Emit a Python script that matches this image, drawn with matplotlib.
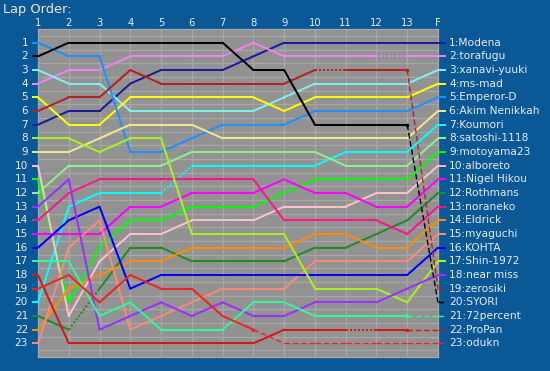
import matplotlib
matplotlib.use("Agg")
import matplotlib.pyplot as plt

# ---------------- data ----------------
laps = ["1", "2", "3", "4", "5", "6", "7", "8", "9", "10", "11", "12", "13", "F"]
drivers = ["Modena", "torafugu", "xanavi-yuuki", "ms-mad", "Emperor-D", "Akim Nenikkah",
           "Koumori", "satoshi-1118", "motoyama23", "alboreto", "Nigel Hikou", "Rothmans",
           "noraneko", "Eldrick", "myaguchi", "KOHTA", "Shin-1972", "near miss", "zerosiki",
           "SYORI", "72percent", "ProPan", "odukn"]
colors = ["#1c1c9a", "#ee82ee", "#84eeee", "#ffff00", "#1e90ff", "#f0e68c",
          "#00ffff", "#90ee90", "#00ff00", "#ffc0c8", "#ff00ff", "#228b22",
          "#ff1493", "#ff8c00", "#fa8a78", "#0000ff", "#a8f020", "#9a30ff", "#b22222",
          "#000000", "#30f898", "#d41818", "#ee2424"]

pos_modena    = [7, 6, 6, 4, 3, 3, 3, 2, 1, 1, 1, 1, 1, 1]
pos_torafugu  = [4, 3, 3, 2, 2, 2, 2, 1, 2, 2, 2, 2, 2, 2]
pos_xanavi    = [3, 4, 4, 6, 6, 6, 6, 6, 5, 4, 4, 4, 4, 3]
pos_msmad     = [5, 7, 7, 5, 5, 5, 5, 5, 6, 5, 5, 5, 5, 4]
pos_emperor   = [1, 2, 2, 9, 9, 8, 7, 7, 7, 6, 6, 6, 6, 5]
pos_akim      = [9, 9, 8, 7, 7, 7, 8, 8, 8, 8, 8, 8, 8, 6]
pos_koumori   = [20, 13, 12, 12, 12, 10, 10, 10, 10, 10, 9, 9, 9, 7]
pos_satoshi   = [12, 10, 10, 10, 10, 9, 9, 9, 9, 9, 10, 10, 10, 8]
pos_motoyama  = [11, 20, 16, 14, 14, 13, 13, 13, 12, 11, 11, 11, 11, 9]
pos_alboreto  = [10, 21, 17, 15, 15, 14, 14, 14, 13, 13, 13, 12, 12, 10]
pos_nigel     = [15, 15, 15, 13, 13, 12, 12, 12, 11, 12, 12, 13, 13, 11]
pos_rothmans  = [21, 22, 19, 16, 16, 17, 17, 17, 17, 16, 16, 15, 14, 12]
pos_noraneko  = [14, 12, 11, 11, 11, 11, 11, 11, 14, 14, 14, 14, 15, 13]
pos_eldrick   = [22, 19, 18, 17, 17, 16, 16, 16, 16, 15, 15, 16, 16, 14]
pos_myaguchi  = [23, 16, 14, 22, 21, 20, 19, 19, 19, 17, 17, 17, 17, 15]
pos_kohta     = [16, 14, 13, 19, 18, 18, 18, 18, 18, 18, 18, 18, 18, 16]
pos_shin      = [8, 8, 9, 8, 8, 15, 15, 15, 15, 19, 19, 19, 20, 17]
pos_nearmiss  = [13, 11, 22, 21, 20, 21, 20, 21, 21, 20, 20, 20, 19, 18]
pos_zerosiki  = [6, 5, 5, 3, 4, 4, 4, 4, 4, 3, 3, 3, 3, 19]
pos_syori     = [2, 1, 1, 1, 1, 1, 1, 3, 3, 7, 7, 7, 7, 20]
pos_72percent = [17, 17, 21, 20, 22, 22, 22, 20, 20, 21, 21, 21, 21, 21]
pos_propan    = [18, 23, 23, 23, 23, 23, 23, 23, 22, 22, 22, 22, 22, 22]
pos_odukn     = [19, 18, 20, 18, 19, 19, 21, 22, 23, 23, 23, 23, 23, 23]

positions = [pos_modena, pos_torafugu, pos_xanavi, pos_msmad, pos_emperor, pos_akim,
             pos_koumori, pos_satoshi, pos_motoyama, pos_alboreto, pos_nigel, pos_rothmans,
             pos_noraneko, pos_eldrick, pos_myaguchi, pos_kohta, pos_shin, pos_nearmiss,
             pos_zerosiki, pos_syori, pos_72percent, pos_propan, pos_odukn]

# lap at which a dotted segment starts (segment lap -> lap+1)
dotted_from = {"torafugu": [12], "zerosiki": [10], "Koumori": [5],
               "Rothmans": [2], "ProPan": [11]}
# lap after which the line is dashed (retired)
retired_at = {"zerosiki": 13, "SYORI": 13, "72percent": 13, "ProPan": 13, "odukn": 8}

# ---------------- style ----------------
BG = "#0a5896"
PLOT_BG = "#929292"
GRID = "#a7a7a7"
TXT = "#e4ecf6"
TITLE = "#ece6d2"
W, H = 550, 371
LW = 1.45

fig = plt.figure(figsize=(W / 100, H / 100), dpi=100, facecolor=BG)
ax = fig.add_axes([38 / W, 1 - 357 / H, 400 / W, 328 / H])
ax.set_facecolor(PLOT_BG)
n = len(laps)
ax.set_xlim(1, n)
ax.set_ylim(len(drivers) + 1, 0)

ax.set_xticks(range(1, n + 1))
ax.set_yticks([r + 0.5 for r in range(0, len(drivers) + 1)])
ax.grid(True, color=GRID, lw=0.9, zorder=0)
ax.tick_params(length=0, labelbottom=False, labelleft=False)
for s in ax.spines.values():
    s.set_color(GRID)
    s.set_linewidth(0.9)

xs = list(range(1, n + 1))
stub_l = 6 / (400 / (n - 1))
stub_r = 8 / (400 / (n - 1))
solid_ls = "-"
dot_ls = (0, (1, 1))
dash_ls = (0, (4, 2))

for name, pos, col in zip(drivers, positions, colors):
    dots = dotted_from.get(name, [])
    ret = retired_at.get(name, None)
    # left stub
    ax.plot([1 - stub_l, 1], [pos[0], pos[0]], color=col, lw=LW, clip_on=False,
            solid_capstyle="butt", zorder=3)
    for i in range(n - 1):
        lap = i + 1
        if ret is not None and lap >= ret:
            ls, lw = dash_ls, 1.0
        elif lap in dots:
            ls, lw = dot_ls, LW
        else:
            ls, lw = solid_ls, LW
        ax.plot([xs[i], xs[i + 1]], [pos[i], pos[i + 1]], color=col, lw=lw, ls=ls,
                solid_capstyle="round", dash_capstyle="butt", clip_on=False, zorder=3)
    # right stub
    if ret is not None:
        ax.plot([n, n + stub_r], [pos[-1], pos[-1]], color=col, lw=1.0, ls=dash_ls,
                clip_on=False, zorder=3)
        ax.plot([ret], [pos[ret - 1]], marker="o", ms=2.6, color=col, mew=0,
                clip_on=False, zorder=4)
    else:
        ax.plot([n, n + stub_r], [pos[-1], pos[-1]], color=col, lw=LW, clip_on=False,
                solid_capstyle="butt", zorder=3)

# right labels (final order)
for name, pos in zip(drivers, positions):
    ax.annotate(f"{pos[-1]}:{name}", xy=(n, pos[-1]), xytext=(11, 0),
                textcoords="offset pixels", ha="left", va="center",
                fontsize=7.7, color=TXT, family="DejaVu Sans")

# left row labels
for r in range(1, len(drivers) + 1):
    ax.annotate(str(r), xy=(1, r), xytext=(-10, 0), textcoords="offset pixels",
                ha="right", va="center", fontsize=7.6, color=TXT, family="DejaVu Sans")

# top lap labels
for i, lab in enumerate(laps):
    ax.annotate(lab, xy=(i + 1, 0), xytext=(0, 6), textcoords="offset pixels",
                ha="center", va="center", fontsize=7.2, color=TXT, family="DejaVu Sans")

fig.text(3 / W, 1 - 9 / H, "Lap Order:", ha="left", va="center", fontsize=9.4,
         color=TITLE, family="DejaVu Sans")

fig.savefig("out.png", dpi=100, facecolor=BG)
